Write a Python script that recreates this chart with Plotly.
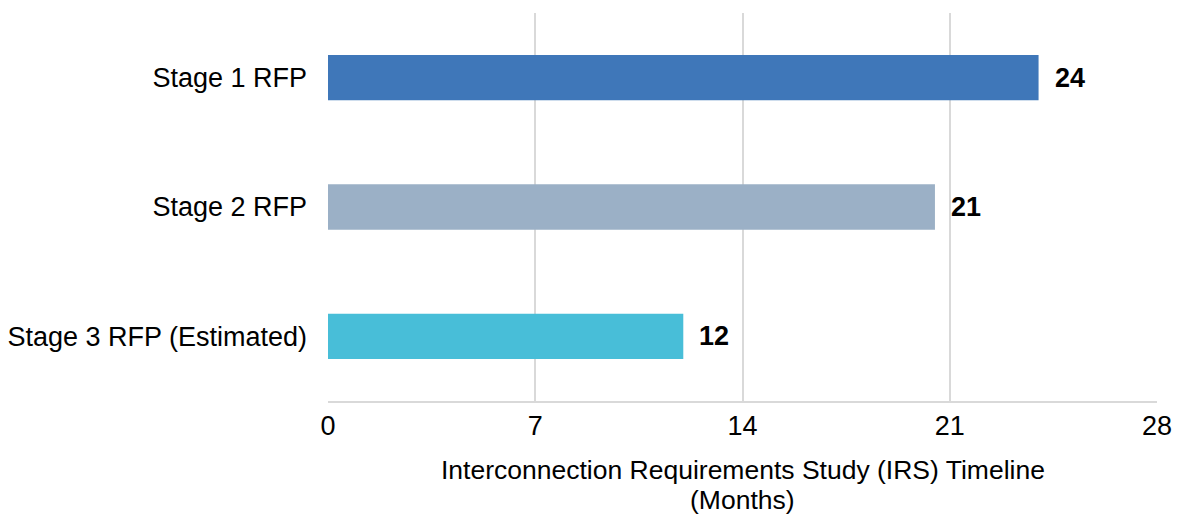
import plotly.graph_objects as go

categories = ["Stage 1 RFP", "Stage 2 RFP", "Stage 3 RFP (Estimated)"]
values = [24, 20.5, 12]
labels = ["24", "21", "12"]
colors = ["#3f77b9", "#9bb0c6", "#48bed8"]
x_ticks = [0, 7, 14, 21, 28]
x_title_lines = ["Interconnection Requirements Study (IRS) Timeline", "(Months)"]

FONT = "Liberation Sans, Arial"
fig = go.Figure()
fig.add_trace(go.Bar(
    y=categories, x=values, orientation="h",
    marker=dict(color=colors, line=dict(width=0)),
    width=0.35, hoverinfo="skip",
))
for c, v, t in zip(categories, values, labels):
    fig.add_annotation(x=v, y=c, text="<b>%s</b>" % t, showarrow=False,
                       xanchor="left", xshift=14,
                       font=dict(size=27, color="#000000", family=FONT))

# two-line axis title, placed below the plot area
for line, yp in zip(x_title_lines, [-0.177, -0.256]):
    fig.add_annotation(x=0.5, y=yp, xref="paper", yref="paper", text=line,
                       showarrow=False, xanchor="center", yanchor="middle",
                       borderpad=0,
                       font=dict(size=26.5, color="#000000", family=FONT))

fig.update_layout(
    width=1179, height=516,
    margin=dict(l=328, r=22, t=13, b=115),
    paper_bgcolor="white", plot_bgcolor="white",
    showlegend=False,
    font=dict(family=FONT, size=27, color="#000000"),
    xaxis=dict(range=[0, 28], tickvals=x_ticks, showgrid=True, gridcolor="#d9d9d9",
               gridwidth=2, zeroline=False, showline=True, linecolor="#d9d9d9", linewidth=2,
               ticks="", tickfont=dict(size=27), automargin=False),
    yaxis=dict(autorange="reversed", showgrid=False, zeroline=False, showline=False,
               ticks="", tickfont=dict(size=27), ticklabelstandoff=20, automargin=False),
)
fig.write_html("out.html")
